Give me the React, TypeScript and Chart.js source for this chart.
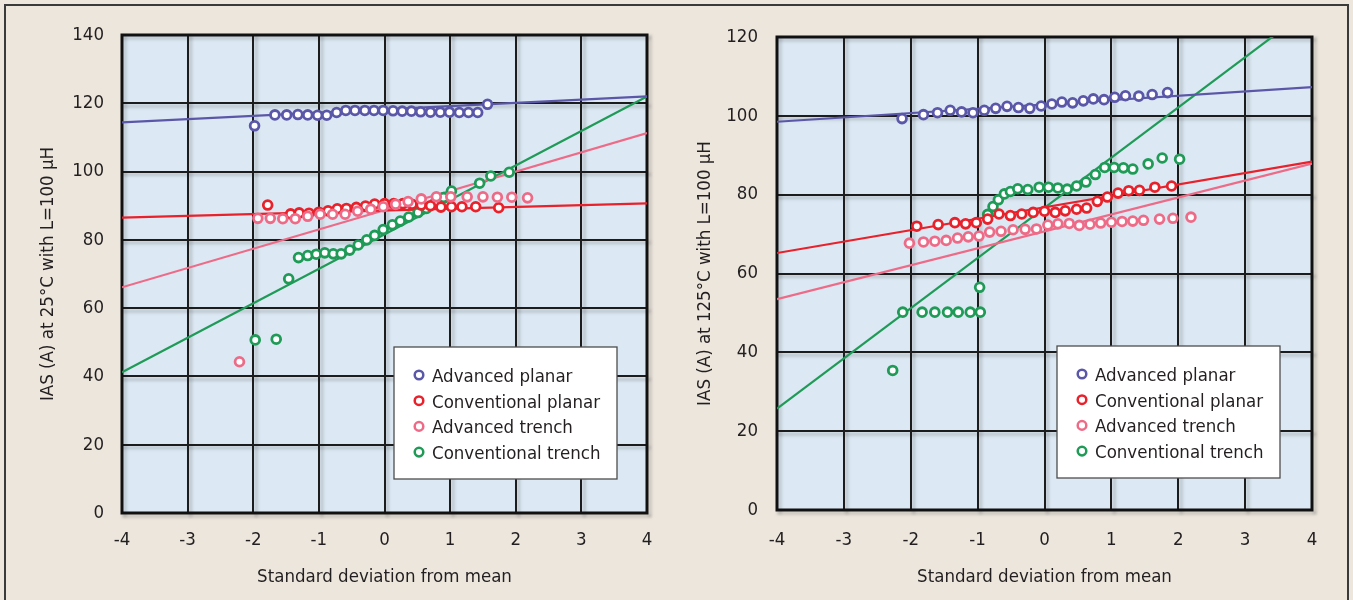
import React, { useEffect, useRef } from "react";
import { Chart, registerables } from "chart.js";

Chart.register(...registerables);

const FONT_FAMILY =
  "'Liberation Sans Narrow', 'DejaVu Sans Condensed', 'Arial Narrow', 'Liberation Sans', sans-serif";
const FONT_SIZE = 18.5;
const TEXT_COLOR = "#231f20";
const PLOT_BG = "#dce9f4";
const PAGE_BG = "#ece6dd";
const GRID_COLOR = "#1c1c1c";

const seriesLabels = ["Advanced planar", "Conventional planar", "Advanced trench", "Conventional trench"];
const seriesColors = ["#5b57a8", "#e8212b", "#ee6b88", "#1f9a57"];

const xTickValues = [-4, -3, -2, -1, 0, 1, 2, 3, 4];
const leftYTickValues = [0, 20, 40, 60, 80, 100, 120, 140];
const rightYTickValues = [0, 20, 40, 60, 80, 100, 120];
const fitX = [-4, 4];

const xTitle = "Standard deviation from mean";
const leftYTitle = "IAS (A) at 25°C with L=100 µH";
const rightYTitle = "IAS (A) at 125°C with L=100 µH";

// ---------- Left panel (25°C) ----------
const leftAdvPlanarX = [-1.98, -1.67, -1.49, -1.32, -1.17, -1.02, -0.88, -0.73, -0.59, -0.45, -0.3, -0.16, -0.02, 0.13, 0.27, 0.41, 0.55, 0.7, 0.85, 0.99, 1.14, 1.28, 1.42, 1.57];
const leftAdvPlanarY = [113.4, 116.6, 116.6, 116.7, 116.6, 116.5, 116.5, 117.3, 117.9, 117.9, 117.9, 117.9, 117.9, 117.8, 117.7, 117.7, 117.5, 117.4, 117.4, 117.4, 117.3, 117.3, 117.3, 119.7];

const leftConvPlanarX = [-1.78, -1.43, -1.3, -1.15, -1.0, -0.86, -0.72, -0.58, -0.43, -0.29, -0.15, 0.0, 0.14, 0.28, 0.42, 0.56, 0.7, 0.86, 1.02, 1.18, 1.39, 1.74];
const leftConvPlanarY = [90.2, 87.6, 87.9, 87.8, 88.1, 88.5, 89.1, 89.2, 89.5, 89.9, 90.5, 90.6, 90.6, 90.6, 90.4, 90.2, 90.0, 89.6, 89.7, 89.7, 89.7, 89.4];

const leftAdvTrenchX = [-2.21, -1.93, -1.74, -1.55, -1.36, -1.17, -0.98, -0.79, -0.6, -0.41, -0.21, -0.02, 0.17, 0.36, 0.56, 0.79, 1.01, 1.26, 1.5, 1.72, 1.94, 2.18];
const leftAdvTrenchY = [44.3, 86.3, 86.3, 86.2, 86.2, 86.9, 87.5, 87.5, 87.5, 88.4, 89.0, 89.7, 90.4, 91.2, 92.0, 92.6, 92.6, 92.6, 92.6, 92.5, 92.5, 92.3];

const leftConvTrenchX = [-1.97, -1.65, -1.46, -1.31, -1.17, -1.04, -0.91, -0.78, -0.66, -0.53, -0.4, -0.27, -0.15, -0.02, 0.12, 0.24, 0.37, 0.51, 0.64, 0.76, 0.9, 1.02, 1.45, 1.62, 1.9];
const leftConvTrenchY = [50.7, 50.9, 68.6, 74.8, 75.4, 75.8, 76.2, 75.9, 75.9, 77.0, 78.5, 80.0, 81.3, 83.0, 84.4, 85.5, 86.7, 88.0, 89.2, 90.6, 92.4, 94.3, 96.6, 98.7, 99.8];

const leftFitAdvPlanar = [114.4, 122.0];
const leftFitConvPlanar = [86.5, 90.7];
const leftFitAdvTrench = [66.1, 111.3];
const leftFitConvTrench = [41.2, 122.0];

// ---------- Right panel (125°C) ----------
const rightAdvPlanarX = [-2.13, -1.81, -1.6, -1.41, -1.24, -1.07, -0.9, -0.73, -0.56, -0.39, -0.22, -0.05, 0.11, 0.26, 0.42, 0.58, 0.73, 0.89, 1.05, 1.21, 1.41, 1.61, 1.84];
const rightAdvPlanarY = [99.3, 100.3, 100.8, 101.4, 101.0, 100.8, 101.4, 101.9, 102.4, 102.1, 101.9, 102.5, 103.0, 103.5, 103.3, 103.8, 104.3, 104.1, 104.7, 105.1, 105.0, 105.4, 105.9];

const rightConvPlanarX = [-1.91, -1.59, -1.34, -1.18, -1.02, -0.85, -0.68, -0.51, -0.34, -0.17, 0.0, 0.16, 0.31, 0.48, 0.63, 0.79, 0.94, 1.1, 1.26, 1.42, 1.65, 1.9];
const rightConvPlanarY = [72.0, 72.4, 72.9, 72.6, 72.9, 73.8, 75.1, 74.7, 75.1, 75.5, 75.8, 75.5, 75.9, 76.3, 76.6, 78.3, 79.4, 80.4, 81.0, 81.1, 81.9, 82.2];

const rightAdvTrenchX = [-2.02, -1.81, -1.64, -1.47, -1.3, -1.14, -0.98, -0.82, -0.65, -0.47, -0.29, -0.12, 0.05, 0.2, 0.37, 0.52, 0.68, 0.84, 1.0, 1.16, 1.32, 1.48, 1.72, 1.92, 2.19];
const rightAdvTrenchY = [67.7, 68.0, 68.2, 68.4, 69.0, 69.3, 69.5, 70.5, 70.7, 71.1, 71.2, 71.3, 72.3, 72.6, 72.7, 72.2, 72.5, 72.8, 73.0, 73.2, 73.3, 73.5, 73.8, 74.0, 74.3];

const rightConvTrenchX = [-2.27, -2.12, -1.83, -1.64, -1.45, -1.29, -1.11, -0.96, -0.97, -0.85, -0.77, -0.69, -0.6, -0.51, -0.4, -0.25, -0.08, 0.06, 0.2, 0.34, 0.48, 0.62, 0.76, 0.9, 1.04, 1.18, 1.32, 1.55, 1.76, 2.02];
const rightConvTrenchY = [35.4, 50.2, 50.2, 50.2, 50.2, 50.2, 50.2, 50.2, 56.5, 75.0, 77.0, 78.7, 80.2, 80.8, 81.5, 81.3, 81.9, 81.9, 81.7, 81.4, 82.2, 83.2, 85.1, 86.9, 86.9, 86.8, 86.5, 87.8, 89.3, 89.0];

const rightFitAdvPlanar = [98.5, 107.3];
const rightFitConvPlanar = [65.2, 88.4];
const rightFitAdvTrench = [53.5, 87.9];
const rightFitConvTrench = [25.7, 127.6];

type PanelSpec = {
  canvasLeft: number;
  canvasWidth: number;
  yMax: number;
  yTicks: number[];
  yTitle: string;
  yAxisWidth: number;
  xAxisHeight: number;
  padTop: number;
  padRight: number;
  yTitlePad: number;
  yTickPad: number;
  xTickPad: number;
  legendDX: number;
  legendDY: number;
  xs: number[][];
  ys: number[][];
  fits: number[][];
};

const leftSpec: PanelSpec = {
  canvasLeft: 0,
  canvasWidth: 676,
  yMax: 140,
  yTicks: leftYTickValues,
  yTitle: leftYTitle,
  yAxisWidth: 122,
  xAxisHeight: 87,
  padTop: 35,
  padRight: 29,
  yTitlePad: 37,
  yTickPad: 18,
  xTickPad: 16,
  legendDX: 272,
  legendDY: 312,
  xs: [leftAdvPlanarX, leftConvPlanarX, leftAdvTrenchX, leftConvTrenchX],
  ys: [leftAdvPlanarY, leftConvPlanarY, leftAdvTrenchY, leftConvTrenchY],
  fits: [leftFitAdvPlanar, leftFitConvPlanar, leftFitAdvTrench, leftFitConvTrench],
};

const rightSpec: PanelSpec = {
  canvasLeft: 676,
  canvasWidth: 677,
  yMax: 120,
  yTicks: rightYTickValues,
  yTitle: rightYTitle,
  yAxisWidth: 101,
  xAxisHeight: 90,
  padTop: 37,
  padRight: 41,
  yTitlePad: 18,
  yTickPad: 19,
  xTickPad: 19,
  legendDX: 280,
  legendDY: 309,
  xs: [rightAdvPlanarX, rightConvPlanarX, rightAdvTrenchX, rightConvTrenchX],
  ys: [rightAdvPlanarY, rightConvPlanarY, rightAdvTrenchY, rightConvTrenchY],
  fits: [rightFitAdvPlanar, rightFitConvPlanar, rightFitAdvTrench, rightFitConvTrench],
};

const drawOrder = [1, 3, 2, 4]; // lower = drawn on top in Chart.js

function buildConfig(spec: PanelSpec): any {
  const datasets: any[] = [];
  spec.xs.forEach((xs, i) => {
    datasets.push({
      type: "scatter",
      label: seriesLabels[i],
      data: xs.map((x, j) => ({ x, y: spec.ys[i][j] })),
      borderColor: seriesColors[i],
      backgroundColor: "#ffffff",
      pointRadius: 4.4,
      pointBorderWidth: 2.8,
      pointHoverRadius: 4.4,
      showLine: false,
      order: drawOrder[i],
    });
  });
  spec.fits.forEach((fit, i) => {
    datasets.push({
      type: "line",
      label: seriesLabels[i] + " fit",
      data: fitX.map((x, j) => ({ x, y: fit[j] })),
      borderColor: seriesColors[i],
      borderWidth: 2.2,
      pointRadius: 0,
      fill: false,
      order: 10 + i,
    });
  });

  const bgPlugin = {
    id: "plotBg",
    beforeDraw(chart: any) {
      const { ctx, chartArea } = chart;
      const { left, top, right, bottom } = chartArea;
      ctx.save();
      ctx.fillStyle = PLOT_BG;
      ctx.fillRect(left, top, right - left, bottom - top);
      // soft shadow under grid lines
      ctx.strokeStyle = "rgba(60,60,60,0.22)";
      ctx.lineWidth = 3;
      ctx.filter = "blur(1.5px)";
      const xs = chart.scales.x;
      const ys = chart.scales.y;
      xTickValues.forEach((v) => {
        const p = xs.getPixelForValue(v) + 3;
        ctx.beginPath();
        ctx.moveTo(p, top);
        ctx.lineTo(p, bottom + 4);
        ctx.stroke();
      });
      spec.yTicks.forEach((v) => {
        const p = ys.getPixelForValue(v) + 3;
        ctx.beginPath();
        ctx.moveTo(left, p);
        ctx.lineTo(right + 4, p);
        ctx.stroke();
      });
      ctx.restore();
    },
    beforeDatasetsDraw(chart: any) {
      const { ctx, chartArea } = chart;
      const { left, top, right, bottom } = chartArea;
      ctx.save();
      ctx.strokeStyle = "#111111";
      ctx.lineWidth = 3;
      ctx.strokeRect(left, top, right - left, bottom - top);
      ctx.restore();
    },
  };

  const legendPlugin = {
    id: "panelLegend",
    afterDraw(chart: any) {
      const { ctx, chartArea } = chart;
      const bx = chartArea.left + spec.legendDX;
      const by = chartArea.top + spec.legendDY;
      const bw = 223;
      const bh = 132;
      ctx.save();
      ctx.fillStyle = "#ffffff";
      ctx.fillRect(bx, by, bw, bh);
      ctx.strokeStyle = "#4d4d4d";
      ctx.lineWidth = 1.3;
      ctx.strokeRect(bx, by, bw, bh);
      ctx.font = `${FONT_SIZE}px ${FONT_FAMILY}`;
      ctx.textBaseline = "middle";
      ctx.textAlign = "left";
      seriesLabels.forEach((label, i) => {
        const y = by + 30 + i * 25.7;
        ctx.beginPath();
        ctx.arc(bx + 25, y - 2, 4.3, 0, Math.PI * 2);
        ctx.fillStyle = "#ffffff";
        ctx.fill();
        ctx.lineWidth = 2.5;
        ctx.strokeStyle = seriesColors[i];
        ctx.stroke();
        ctx.fillStyle = TEXT_COLOR;
        ctx.fillText(label, bx + 38, y);
      });
      ctx.restore();
    },
  };

  const tickFont = { family: FONT_FAMILY, size: FONT_SIZE };

  return {
    type: "scatter",
    data: { datasets },
    plugins: [bgPlugin, legendPlugin],
    options: {
      animation: false,
      responsive: false,
      maintainAspectRatio: false,
      devicePixelRatio: 1,
      layout: { padding: { top: spec.padTop, right: spec.padRight, left: 0, bottom: 0 } },
      plugins: { legend: { display: false }, tooltip: { enabled: false }, title: { display: false } },
      scales: {
        x: {
          type: "linear",
          min: -4,
          max: 4,
          afterBuildTicks: (scale: any) => {
            scale.ticks = xTickValues.map((v) => ({ value: v }));
          },
          afterFit: (scale: any) => {
            scale.height = spec.xAxisHeight;
          },
          grid: { color: GRID_COLOR, lineWidth: 2, drawTicks: false },
          border: { display: false },
          ticks: {
            padding: spec.xTickPad,
            color: TEXT_COLOR,
            font: tickFont,
            maxRotation: 0,
            autoSkip: false,
          },
          title: {
            display: true,
            text: xTitle,
            color: TEXT_COLOR,
            font: tickFont,
            padding: { top: 0, bottom: 12 },
          },
        },
        y: {
          type: "linear",
          min: 0,
          max: spec.yMax,
          afterBuildTicks: (scale: any) => {
            scale.ticks = spec.yTicks.map((v) => ({ value: v }));
          },
          afterFit: (scale: any) => {
            scale.width = spec.yAxisWidth;
          },
          grid: { color: GRID_COLOR, lineWidth: 2, drawTicks: false },
          border: { display: false },
          ticks: {
            padding: spec.yTickPad,
            color: TEXT_COLOR,
            font: tickFont,
            autoSkip: false,
          },
          title: {
            display: true,
            text: spec.yTitle,
            color: TEXT_COLOR,
            font: tickFont,
            padding: { top: spec.yTitlePad, bottom: 0 },
          },
        },
      },
    },
  };
}

function ChartPanel({ spec }: { spec: PanelSpec }) {
  const ref = useRef<HTMLCanvasElement | null>(null);
  useEffect(() => {
    if (!ref.current) return;
    const chart = new Chart(ref.current, buildConfig(spec));
    return () => chart.destroy();
  }, [spec]);
  return (
    <canvas
      ref={ref}
      width={spec.canvasWidth}
      height={600}
      style={{ position: "absolute", left: spec.canvasLeft, top: 0, width: spec.canvasWidth, height: 600 }}
    />
  );
}

export default function App() {
  return (
    <div
      style={{
        position: "fixed",
        left: 0,
        top: 0,
        width: 1353,
        height: 600,
        background: PAGE_BG,
        overflow: "hidden",
      }}
    >
      <div
        style={{
          position: "absolute",
          left: 4,
          top: 4,
          width: 1341,
          height: 640,
          border: "2px solid #3a3a3a",
        }}
      />
      <ChartPanel spec={leftSpec} />
      <ChartPanel spec={rightSpec} />
    </div>
  );
}
